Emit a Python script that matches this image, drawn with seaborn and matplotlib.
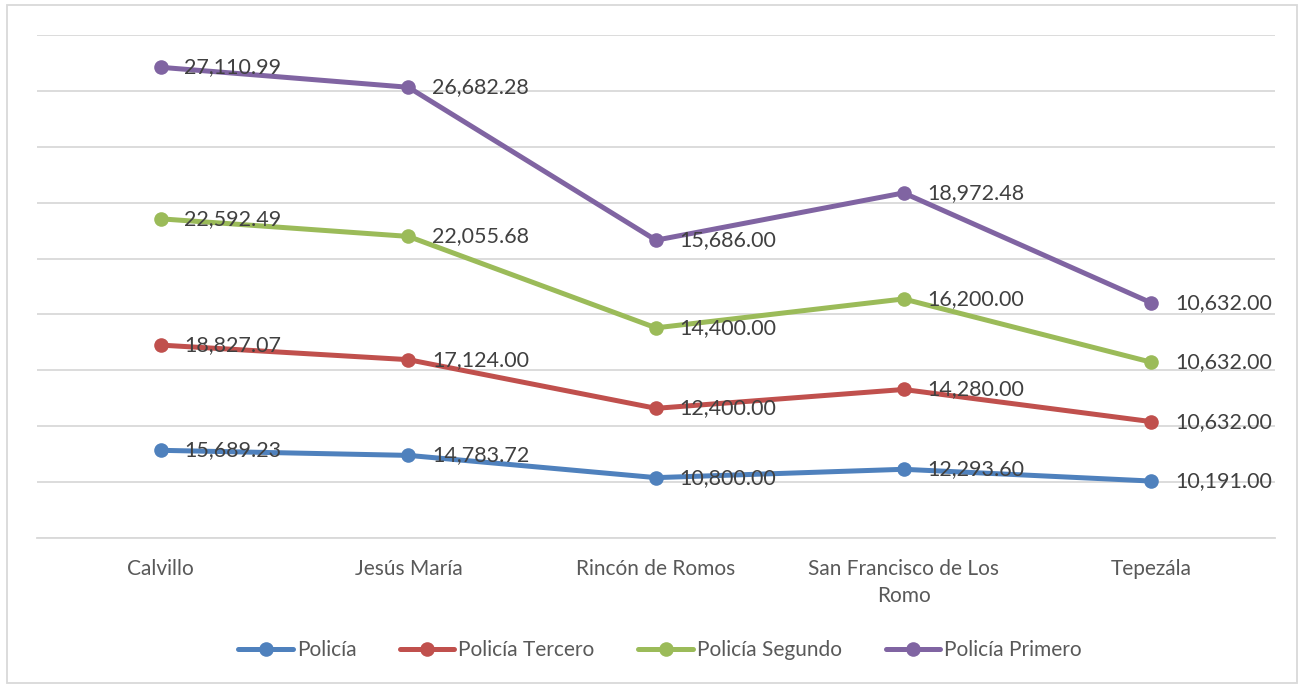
import numpy as np
import pandas as pd
import matplotlib.pyplot as plt
import seaborn as sns
from matplotlib.patches import Rectangle

municipios = ["Calvillo", "Jesús María", "Rincón de Romos", "San Francisco de Los\nRomo", "Tepezála"]
series = ["Policía", "Policía Tercero", "Policía Segundo", "Policía Primero"]
policia = [15689.23, 14783.72, 10800.00, 12293.60, 10191.00]
policia_tercero = [18827.07, 17124.00, 12400.00, 14280.00, 10632.00]
policia_segundo = [22592.49, 22055.68, 14400.00, 16200.00, 10632.00]
policia_primero = [27110.99, 26682.28, 15686.00, 18972.48, 10632.00]
colores = ["#4F81BD", "#C0504D", "#9BBB59", "#8064A2"]

sns.set_style("white")
plt.rcParams['font.family'] = ['Lato', 'DejaVu Sans']

# stacked line chart: each line sits on top of the previous ones
valores = np.array([policia, policia_tercero, policia_segundo, policia_primero])
acumulado = np.cumsum(valores, axis=0)

filas = []
for i, s in enumerate(series):
    for j, m in enumerate(municipios):
        filas.append({"municipio": j, "serie": s, "valor": valores[i, j], "acum": acumulado[i, j]})
df = pd.DataFrame(filas)

fig = plt.figure(figsize=(13.03, 6.85), dpi=100)
ax = fig.add_axes([37 / 1303, 1 - 538 / 685, (1275 - 37) / 1303, (538 - 35) / 685])

sns.lineplot(data=df, x="municipio", y="acum", hue="serie", hue_order=series,
             palette=colores, marker="o", markersize=10.5, markeredgewidth=0,
             linewidth=3.6, ax=ax, legend=True)

for _, r in df.iterrows():
    ax.annotate(f"{r['valor']:,.2f}", (r["municipio"], r["acum"]),
                xytext=(17, 0), textcoords="offset points", va="center", ha="left",
                fontsize=15.5, color="#404040")

ax.set_xlim(-0.5, 4.5)
ax.set_ylim(0, 90000)
ax.set_yticks(np.arange(0, 90001, 10000))
ax.set_yticklabels([])
ax.yaxis.grid(True, color="#D9D9D9", linewidth=1.3)
ax.set_axisbelow(True)
ax.set_xticks(range(len(municipios)))
ax.set_xticklabels(municipios, fontsize=15, color="#595959", linespacing=1.45)
ax.tick_params(axis="x", length=0, pad=15)
ax.tick_params(axis="y", length=0)
ax.set_xlabel("")
ax.set_ylabel("")
for lado in ["top", "right", "left"]:
    ax.spines[lado].set_visible(False)
ax.spines["bottom"].set_color("#D9D9D9")
ax.spines["bottom"].set_linewidth(1.3)

handles, labels = ax.get_legend_handles_labels()
ax.legend_.remove()
fig.legend(handles, labels, loc="center", bbox_to_anchor=(660 / 1303, 1 - 650 / 685),
           ncol=4, frameon=False, fontsize=15, handlelength=2.6, handletextpad=0.2,
           columnspacing=2.1, labelcolor="#595959")

fig.patches.append(Rectangle((7 / 1303, 2 / 685), 1290 / 1303, 678 / 685,
                             transform=fig.transFigure, fill=False,
                             edgecolor="#D9D9D9", linewidth=1.3))

fig.savefig("out.png", dpi=100)
